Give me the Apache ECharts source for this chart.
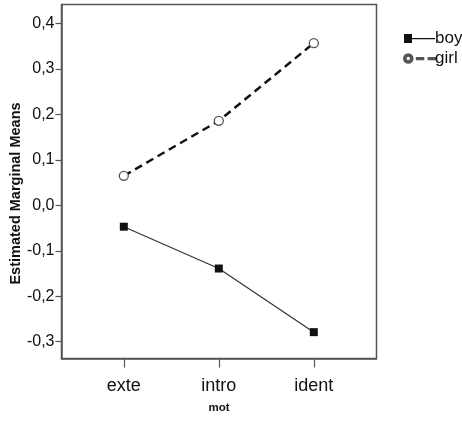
<!DOCTYPE html>
<html>
<head>
<meta charset="utf-8">
<script src="https://cdn.jsdelivr.net/npm/echarts@6/dist/echarts.min.js"></script>
<style>html,body{margin:0;padding:0;background:#fff;}#c{width:462px;height:422px;}</style>
</head>
<body>
<div id="c"></div>
<script>
var categories = ['exte', 'intro', 'ident'];
var boy = [-0.047, -0.139, -0.279];
var girl = [0.065, 0.186, 0.357];
var yTicks = [-0.3, -0.2, -0.1, 0, 0.1, 0.2, 0.3, 0.4];
var xTicks = [1, 2, 3];

var chart = echarts.init(document.getElementById('c'));
function pts(arr) { return categories.map(function (c, i) { return [i + 1, arr[i]]; }); }
chart.setOption({
  animation: false,
  textStyle: { fontFamily: 'Liberation Sans' },
  grid: { left: 61.5, top: 4.5, width: 315, height: 354, show: true, borderColor: '#555', borderWidth: 1.5,
    backgroundColor: '#fff', containLabel: false, outerBoundsMode: 'none' },
  legend: {
    orient: 'vertical', left: 398, top: 25, itemGap: 3, itemWidth: 31, itemHeight: 9,
    textStyle: { fontSize: 17, color: '#111', padding: [0, 0, 0, -5] },
    data: [
      { name: 'boy', icon: 'path://M0,0h8v9h-8z M8,4h23v1.2h-23z', itemStyle: { color: '#111' } },
      { name: 'girl', icon: 'path://M0,4.5a4,4 0 1,0 8,0a4,4 0 1,0 -8,0z M1.5,4.5a2.5,2.5 0 1,1 5,0a2.5,2.5 0 1,1 -5,0z M12,4h6v1.3h-6z M23,4h6v1.3h-6z', itemStyle: { color: '#333' } }
    ]
  },
  xAxis: {
    type: 'value', min: 0.344, max: 3.66,
    name: 'mot', nameLocation: 'middle', nameGap: 43, nameMoveOverlap: false,
    nameTextStyle: { fontSize: 11.5, fontWeight: 'bold', color: '#111' },
    axisLine: { show: true, onZero: false, lineStyle: { color: '#555', width: 1.5 } },
    axisTick: { show: true, length: 9, customValues: xTicks, lineStyle: { color: '#555', width: 1.2 } },
    axisLabel: { customValues: xTicks, margin: 19, fontSize: 18, color: '#111',
      formatter: function (v) { return categories[Math.round(v) - 1] || ''; } },
    splitLine: { show: false }
  },
  yAxis: {
    type: 'value', min: -0.337, max: 0.442,
    name: 'Estimated Marginal Means', nameLocation: 'middle', nameGap: 38, nameMoveOverlap: false,
    nameTextStyle: { fontSize: 14.5, fontWeight: 'bold', color: '#111', padding: [0, 24, 0, 0] },
    axisLine: { show: true, onZero: false, lineStyle: { color: '#555', width: 1.5 } },
    axisTick: { show: true, length: 6, customValues: yTicks, lineStyle: { color: '#555', width: 1.2 } },
    axisLabel: { customValues: yTicks, margin: 7, fontSize: 16, color: '#111',
      formatter: function (v) { return v.toFixed(1).replace('.', ','); } },
    splitLine: { show: false }
  },
  series: [
    { name: 'boy', type: 'line', data: pts(boy), symbol: 'rect', symbolSize: 8,
      lineStyle: { color: '#333', width: 1.2 }, itemStyle: { color: '#111', borderWidth: 0 } },
    { name: 'girl', type: 'line', data: pts(girl), symbol: 'circle', symbolSize: 9,
      lineStyle: { color: '#111', width: 2.5, type: [8, 5] },
      itemStyle: { color: '#fff', borderColor: '#555', borderWidth: 1.3 } }
  ]
});
</script>
</body>
</html>
